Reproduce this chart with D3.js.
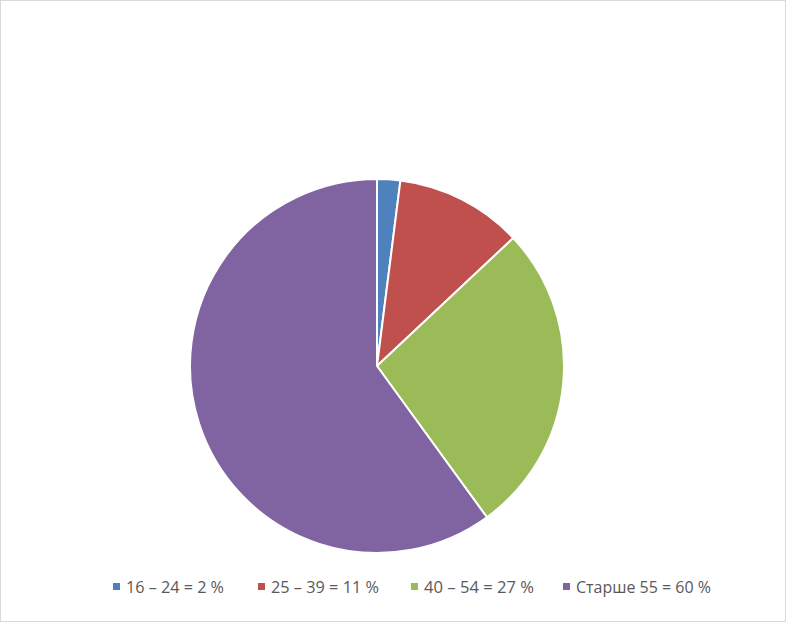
<!DOCTYPE html>
<html><head><meta charset="utf-8">
<script src="https://cdn.jsdelivr.net/npm/d3@7"></script>
<style>html,body{margin:0;padding:0;background:#fff;}svg{display:block;}</style>
</head><body>
<svg id="c" width="787" height="624"></svg>
<script>
const categories = ["16 – 24 = 2 %", "25 – 39 = 11 %", "40 – 54 = 27 %", "Старше 55 = 60 %"];
const values = [2, 11, 27, 60];
const colors = ["#4F81BD", "#C0504D", "#9BBB59", "#8064A2"];

const svg = d3.select("#c");
svg.append("rect").attr("x", 0.5).attr("y", 0.5).attr("width", 785).attr("height", 621)
  .attr("fill", "#fff").attr("stroke", "#d9d9d9").attr("stroke-width", 1);

const cx = 377, cy = 366, r = 187;
const pie = d3.pie().sort(null).value(d => d)(values);
const arc = d3.arc().innerRadius(0).outerRadius(r);
svg.append("g").attr("transform", `translate(${cx},${cy})`)
  .selectAll("path").data(pie).join("path")
  .attr("d", arc).attr("fill", (d, i) => colors[i])
  .attr("stroke", "#fff").attr("stroke-width", 2).attr("stroke-linejoin", "round");

const legendX = [113, 258, 411, 563];
const textW = [98, 108, 110, 135];
const lg = svg.append("g");
categories.forEach((c, i) => {
  lg.append("rect").attr("x", legendX[i]).attr("y", 583).attr("width", 7).attr("height", 7).attr("fill", colors[i]);
  lg.append("text").attr("x", legendX[i] + 13).attr("y", 593)
    .attr("font-family", "Open Sans, Liberation Sans, sans-serif").attr("font-size", 16)
    .attr("textLength", textW[i]).attr("lengthAdjust", "spacingAndGlyphs")
    .attr("fill", "#595959").text(c);
});
</script>
</body></html>
